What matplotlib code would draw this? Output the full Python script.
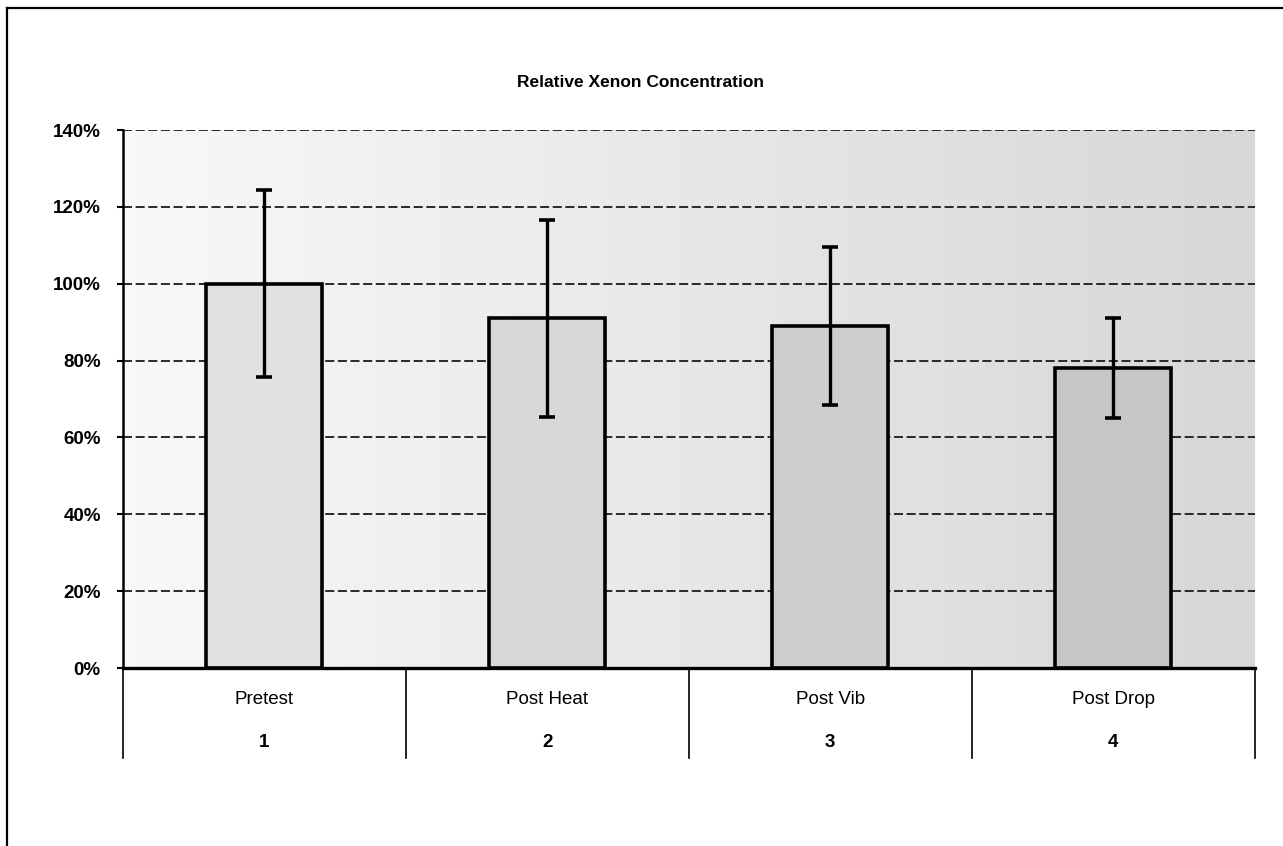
import matplotlib
matplotlib.use("Agg")
import matplotlib.pyplot as plt
import numpy as np
from matplotlib.lines import Line2D
from matplotlib.ticker import FuncFormatter

# data
stages = ["Pretest", "Post Heat", "Post Vib", "Post Drop"]
test_no = ["1", "2", "3", "4"]
conc = [100.0, 91.0, 89.0, 78.0]
err = [24.3, 25.7, 20.5, 13.0]

plt.rcParams['font.family'] = ['Liberation Sans', 'DejaVu Sans']

fig = plt.figure(figsize=(12.83, 8.46), dpi=100)
ax = fig.add_axes([0.0959, 0.2104, 0.8820, 0.6359])

# shaded plot area, lighter on the left, darker on the right
grad = np.linspace(0.97, 0.84, 256).reshape(1, -1)
ax.imshow(grad, cmap='gray', vmin=0, vmax=1, aspect='auto',
          extent=[0, 1, 0, 1], transform=ax.transAxes, zorder=0)

x = np.arange(len(stages))
bar_cols = [plt.cm.gray(0.88 - 0.035 * i) for i in x]
ax.bar(x, conc, width=0.41, color=bar_cols, edgecolor='black',
       linewidth=2.6, zorder=3)
ax.errorbar(x, conc, yerr=err, fmt='none', ecolor='black', elinewidth=2.4,
            capsize=6, capthick=2.6, zorder=4)

ax.set_xlim(-0.5, 3.5)
ax.set_ylim(0, 140)
ax.set_yticks(np.arange(0, 141, 20))
ax.yaxis.set_major_formatter(FuncFormatter(lambda v, p: f"{v:.0f}%"))
ax.tick_params(axis='y', length=4, width=1.5, pad=12, labelsize=13.5)
for lab in ax.get_yticklabels():
    lab.set_fontweight('bold')
ax.set_xticks([])

for yv in np.arange(20, 141, 20):
    ax.axhline(yv, color='#1a1a1a', lw=1.3, ls=(0, (5, 2)), zorder=1)

for s in ['top', 'right']:
    ax.spines[s].set_visible(False)
ax.spines['left'].set_linewidth(1.8)
ax.spines['bottom'].set_linewidth(2.4)
ax.spines['bottom'].set_zorder(5)

# category table below the axis
tr = ax.get_xaxis_transform()
for b in np.arange(-0.5, 4.0, 1.0):
    ax.plot([b, b], [0, -0.168], color='black', lw=1.2, transform=tr,
            clip_on=False)
for i in x:
    ax.text(i, -0.059, stages[i], transform=tr, ha='center', va='center',
            fontsize=13.5)
    ax.text(i, -0.139, test_no[i], transform=tr, ha='center', va='center',
            fontsize=13.5, fontweight='bold')

fig.text(0.499, 0.902, "Relative Xenon Concentration", ha='center',
         va='center', fontsize=12.5, fontweight='bold')

# outer chart frame (runs past the page edges)
fig.add_artist(Line2D([0.0055, 0.0055], [-0.05, 0.9905], color='black', lw=1.6))
fig.add_artist(Line2D([0.0055, 1.05], [0.9905, 0.9905], color='black', lw=1.6))

fig.savefig("out.png", dpi=100)
